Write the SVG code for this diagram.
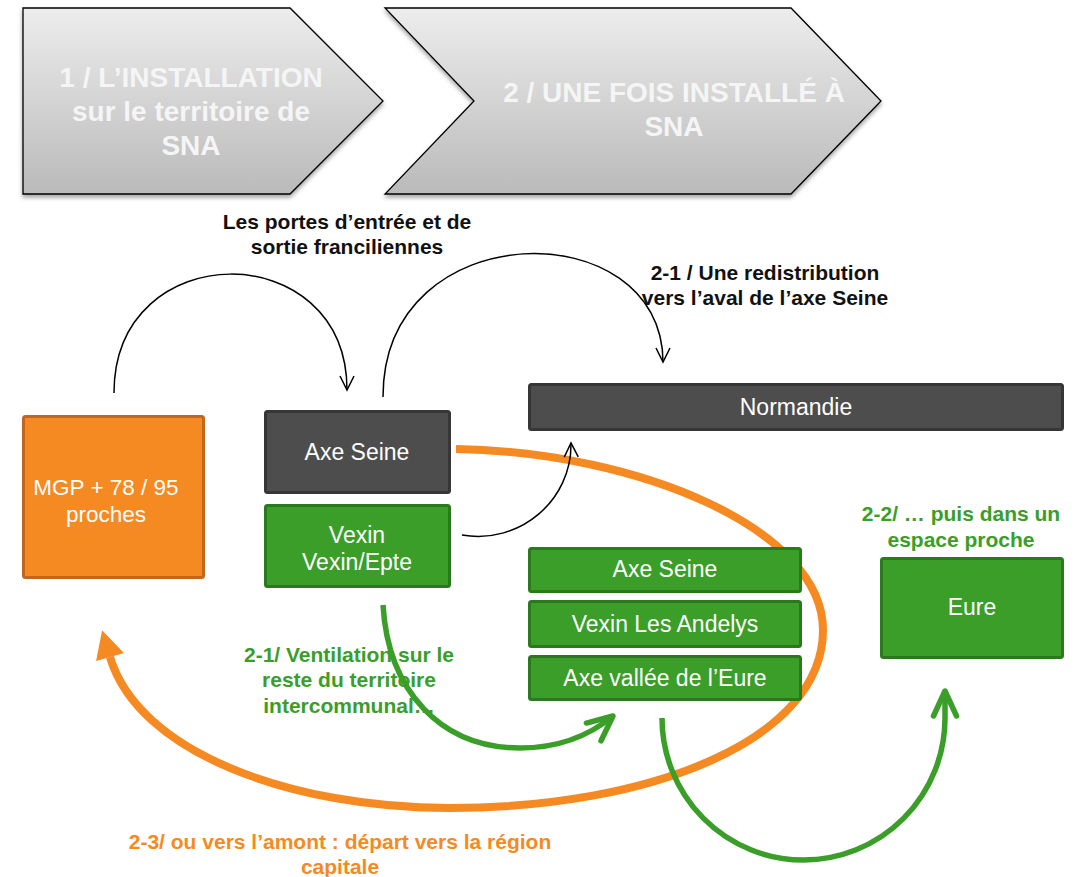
<svg xmlns="http://www.w3.org/2000/svg" width="1077" height="877" viewBox="0 0 1077 877">
  <defs>
    <linearGradient id="chevGrad" x1="0" y1="0" x2="0" y2="1">
      <stop offset="0" stop-color="#ededed"/>
      <stop offset="1" stop-color="#bababa"/>
    </linearGradient>
    <filter id="shadow" x="-5%" y="-5%" width="110%" height="115%">
      <feDropShadow dx="0" dy="3" stdDeviation="2" flood-color="#000" flood-opacity="0.35"/>
    </filter>
    <marker id="ahBlack" markerUnits="userSpaceOnUse" viewBox="-18 -10 22 20" markerWidth="22" markerHeight="20" refX="0" refY="0" orient="auto">
      <path d="M-14,-7 L0,0 L-14,7" fill="none" stroke="#000" stroke-width="1.5"/>
    </marker>
    <marker id="ahGreen" markerUnits="userSpaceOnUse" viewBox="-32 -18 38 36" markerWidth="38" markerHeight="36" refX="0" refY="0" orient="auto">
      <path d="M-25,-11.5 L0,0 L-25,11.5" fill="none" stroke="#3a9e29" stroke-width="5.5" stroke-linecap="round" stroke-linejoin="round"/>
    </marker>
    <marker id="ahOrange" markerUnits="userSpaceOnUse" viewBox="-2 -16 32 32" markerWidth="32" markerHeight="32" refX="0" refY="0" orient="auto">
      <path d="M0,-14.5 L28,0 L0,14.5 Z" fill="#f68a22"/>
    </marker>
    <style>
      .chev { fill: url(#chevGrad); stroke: #000; stroke-width: 1.3; filter: url(#shadow); }
      .chevText { font-family: "Liberation Sans", Arial, sans-serif; font-weight: bold; font-size: 28px; fill: #f5f5f5; text-anchor: middle; }
      .label { font-family: "Liberation Sans", Arial, sans-serif; font-weight: bold; font-size: 21px; text-anchor: middle; }
      .lblBlack { fill: #111; }
      .lblGreen { fill: #3a9e29; }
      .lblOrange { fill: #f68a22; }
      .node rect { stroke-width: 3; }
      .dark rect { fill: #4d4d4d; stroke: #363636; }
      .green rect { fill: #3a9e29; stroke: #2a7a1d; }
      .orange rect { fill: #f68a22; stroke: #c1661c; }
      .nodeText { font-family: "Liberation Sans", Arial, sans-serif; font-size: 23px; fill: #ffffff; text-anchor: middle; }
      .thin { fill: none; stroke: #000; stroke-width: 1.5; }
      .gArrow { fill: none; stroke: #3a9e29; stroke-width: 5.5; }
      .oArrow { fill: none; stroke: #f68a22; stroke-width: 8; }
    </style>
  </defs>

  <rect x="0" y="0" width="1077" height="877" fill="#ffffff"/>

  <!-- Chevrons -->
  <g id="chevron-1">
    <polygon class="chev" points="23,8 290,8 383,101 290,194 23,194"/>
    <text class="chevText" x="191" y="87">1 / L’INSTALLATION</text>
    <text class="chevText" x="191" y="121">sur le territoire de</text>
    <text class="chevText" x="191" y="155">SNA</text>
  </g>
  <g id="chevron-2">
    <polygon class="chev" points="385,8 791,8 881,101 791,194 385,194 474,101"/>
    <text class="chevText" x="674" y="102">2 / UNE FOIS INSTALLÉ À</text>
    <text class="chevText" x="674" y="136">SNA</text>
  </g>

  <!-- Connectors -->
  <g id="connectors">
    <path id="c-orange" class="oArrow" d="M456,449 C640,452 823,530 823,630 C823,740 650,808 450,808 C290,808 138,752 110,657" marker-end="url(#ahOrange)"/>
    <path id="c-mgp-seine" class="thin" d="M114,393 C114,235 347,235 347,390" marker-end="url(#ahBlack)"/>
    <path id="c-seine-normandie" class="thin" d="M383,397 C383,212 663,212 663,362" marker-end="url(#ahBlack)"/>
    <path id="c-vexin-normandie" class="thin" d="M462,535 C520,545 572,500 571,443" marker-end="url(#ahBlack)"/>
    <path id="c-vexin-ventilation" class="gArrow" d="M383,605 C388,690 440,748 520,748 C560,748 590,735 613,716" marker-end="url(#ahGreen)"/>
    <path id="c-eure" class="gArrow" d="M662,718 A141.5,142 0 0 0 945,718 L945,691" marker-end="url(#ahGreen)"/>
  </g>

  <!-- Nodes -->
  <g id="node-mgp" class="node orange">
    <rect x="23.5" y="416.5" width="180" height="161" rx="2"/>
    <text class="nodeText" x="106" y="495" style="font-size:22.5px">MGP + 78 / 95</text>
    <text class="nodeText" x="106" y="522" style="font-size:22.5px">proches</text>
  </g>
  <g id="node-axe-seine-1" class="node dark">
    <rect x="265.5" y="411.5" width="184" height="81" rx="2"/>
    <text class="nodeText" x="357" y="460">Axe Seine</text>
  </g>
  <g id="node-vexin" class="node green">
    <rect x="265.5" y="505.5" width="184" height="81" rx="2"/>
    <text class="nodeText" x="357" y="543">Vexin</text>
    <text class="nodeText" x="357" y="570">Vexin/Epte</text>
  </g>
  <g id="node-normandie" class="node dark">
    <rect x="529.5" y="384.5" width="533" height="45" rx="2"/>
    <text class="nodeText" x="796" y="415">Normandie</text>
  </g>
  <g id="node-axe-seine-2" class="node green">
    <rect x="529.5" y="548.5" width="271" height="43" rx="2"/>
    <text class="nodeText" x="665" y="577">Axe Seine</text>
  </g>
  <g id="node-vexin-andelys" class="node green">
    <rect x="529.5" y="601.5" width="271" height="45" rx="2"/>
    <text class="nodeText" x="665" y="632">Vexin Les Andelys</text>
  </g>
  <g id="node-axe-eure" class="node green">
    <rect x="529.5" y="656.5" width="271" height="43" rx="2"/>
    <text class="nodeText" x="665" y="686">Axe vallée de l’Eure</text>
  </g>
  <g id="node-eure" class="node green">
    <rect x="881.5" y="558.5" width="181" height="99" rx="2"/>
    <text class="nodeText" x="972" y="615">Eure</text>
  </g>

  <!-- Labels -->
  <g id="label-portes" class="label lblBlack">
    <text x="347" y="229">Les portes d’entrée et de</text>
    <text x="347" y="254">sortie franciliennes</text>
  </g>
  <g id="label-2-1-aval" class="label lblBlack">
    <text x="765" y="280">2-1 / Une redistribution</text>
    <text x="765" y="305">vers l’aval de l’axe Seine</text>
  </g>
  <g id="label-2-2" class="label lblGreen">
    <text x="961" y="521">2-2/ … puis dans un</text>
    <text x="961" y="547">espace proche</text>
  </g>
  <g id="label-2-1-ventilation" class="label lblGreen">
    <text x="349" y="662">2-1/ Ventilation sur le</text>
    <text x="349" y="687">reste du territoire</text>
    <text x="349" y="713">intercommunal…</text>
  </g>
  <g id="label-2-3" class="label lblOrange">
    <text x="340" y="849">2-3/ ou vers l’amont : départ vers la région</text>
    <text x="340" y="874">capitale</text>
  </g>
</svg>
